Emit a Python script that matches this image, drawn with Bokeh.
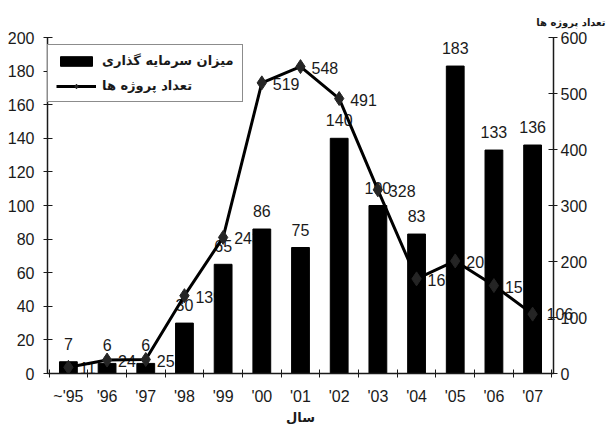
from bokeh.plotting import figure
from bokeh.models import (Range1d, LinearAxis, FixedTicker, Legend, LegendItem,
                          Title, ColumnDataSource)
from bokeh.core.properties import value
from bokeh.embed import file_html
from bokeh.resources import INLINE

years = ["~'95", "'96", "'97", "'98", "'99", "'00", "'01", "'02", "'03", "'04", "'05", "'06", "'07"]
investment = [7, 6, 6, 30, 65, 86, 75, 140, 100, 83, 183, 133, 136]
projects = [11, 24, 25, 139, 243, 519, 548, 491, 328, 169, 201, 157, 106]
left_ticks = [0, 20, 40, 60, 80, 100, 120, 140, 160, 180, 200]
right_ticks = [0, 100, 200, 300, 400, 500, 600]

xs = list(range(len(years)))
src = ColumnDataSource(dict(
    x=xs, inv=investment, proj=projects,
    inv_lbl=[str(v) for v in investment],
))
# line labels inside the frame; the last one overhangs the right axis and is drawn separately
inner = ColumnDataSource(dict(x=xs[:-1], proj=projects[:-1], proj_lbl=[str(v) for v in projects[:-1]]))

FONT = "Liberation Sans"
PFONT = "DejaVu Sans"
INK = "#1a1a1a"

p = figure(width=610, height=429, output_backend="svg", toolbar_location=None,
           x_range=Range1d(-0.54, len(years) - 1 + 0.54), y_range=Range1d(0, 200),
           min_border_left=47, min_border_right=57, min_border_top=37, min_border_bottom=56)
p.extra_y_ranges = {"proj": Range1d(0, 600)}
p.outline_line_color = None
p.grid.visible = False
p.background_fill_color = "white"
p.border_fill_color = "white"

# line labels (drawn beneath bars)
p.text(x="x", y="proj", text="proj_lbl", source=inner, y_range_name="proj",
       x_offset=11, y_offset=1, text_align="left", text_baseline="middle",
       text_font=value(FONT), text_font_size="16px", text_color=INK)

bars = p.vbar(x="x", top="inv", width=0.46, source=src, fill_color="black", line_color="black")

p.text(x="x", y="inv", text="inv_lbl", source=src,
       y_offset=-12, text_align="center", text_baseline="bottom",
       text_font=value(FONT), text_font_size="16px", text_color=INK)

line = p.line(x="x", y="proj", source=src, y_range_name="proj", line_width=3, line_color="black")
pts = p.scatter(x="x", y="proj", source=src, y_range_name="proj", marker="diamond",
                size=14, fill_color="#252525", line_color="#252525")

# left axis
ya = p.yaxis[0]
ya.ticker = FixedTicker(ticks=left_ticks)
ya.major_tick_in = 5
ya.major_tick_out = 4
ya.minor_tick_line_color = None
ya.major_label_standoff = 9
ya.major_label_text_font = FONT
ya.major_label_text_font_size = "16px"
ya.major_label_text_color = INK
ya.axis_line_width = 1.5
ya.axis_line_color = INK
ya.major_tick_line_color = INK

# right axis
ra = LinearAxis(y_range_name="proj", ticker=FixedTicker(ticks=right_ticks))
ra.major_tick_in = 5
ra.major_tick_out = 4
ra.minor_tick_line_color = None
ra.major_label_standoff = 3
ra.major_label_text_font = FONT
ra.major_label_text_font_size = "16px"
ra.major_label_text_color = INK
ra.axis_line_width = 1.5
ra.axis_line_color = INK
ra.major_tick_line_color = INK
p.add_layout(ra, "right")

# value label of the last point, which overhangs the right axis (unclipped, placed by the right scale)
last = LinearAxis(y_range_name="proj", ticker=FixedTicker(ticks=[projects[-1]]),
                  major_label_overrides={projects[-1]: str(projects[-1])})
last.axis_line_color = None
last.major_tick_line_color = None
last.minor_tick_line_color = None
last.major_tick_in = 0
last.major_tick_out = 0
last.major_label_standoff = -44
last.major_label_text_font = FONT
last.major_label_text_font_size = "16px"
last.major_label_text_color = INK
p.add_layout(last, "right")

# bottom axis
xa = p.xaxis[0]
xa.ticker = FixedTicker(ticks=xs, minor_ticks=[i - 0.5 for i in range(len(years) + 1)])
xa.major_label_overrides = {i: years[i] for i in xs}
xa.major_tick_in = 0
xa.major_tick_out = 0
xa.minor_tick_in = 4
xa.minor_tick_out = 4
xa.minor_tick_line_color = INK
xa.major_label_standoff = 10
xa.major_label_text_font = FONT
xa.major_label_text_font_size = "16px"
xa.major_label_text_color = INK
xa.axis_line_width = 1.5
xa.axis_line_color = INK
xa.axis_label = "سال"
xa.axis_label_text_font = PFONT
xa.axis_label_text_font_style = "bold"
xa.axis_label_text_font_size = "13px"
xa.axis_label_standoff = 2
xa.axis_label_text_color = INK

# right axis title (top right corner)
p.add_layout(Title(text="تعداد پروژه ها", align="right", offset=-52, standoff=19,
                   text_font=PFONT, text_font_style="bold", text_font_size="10px",
                   text_color=INK), "above")

legend = Legend(items=[
    LegendItem(label="میزان سرمایه گذاری", renderers=[bars]),
    LegendItem(label="تعداد پروژه ها", renderers=[line, pts]),
], location=(0, 271))
legend.glyph_width = 40
legend.glyph_height = 12
legend.label_text_font = PFONT
legend.label_text_font_style = "bold"
legend.label_text_font_size = "13px"
legend.label_text_color = INK
legend.label_standoff = 6
legend.spacing = 10
legend.padding = 8
legend.margin = 0
legend.border_line_color = INK
legend.border_line_width = 1.5
legend.background_fill_alpha = 1
p.add_layout(legend)

open("out.html", "w").write(file_html(p, INLINE))
